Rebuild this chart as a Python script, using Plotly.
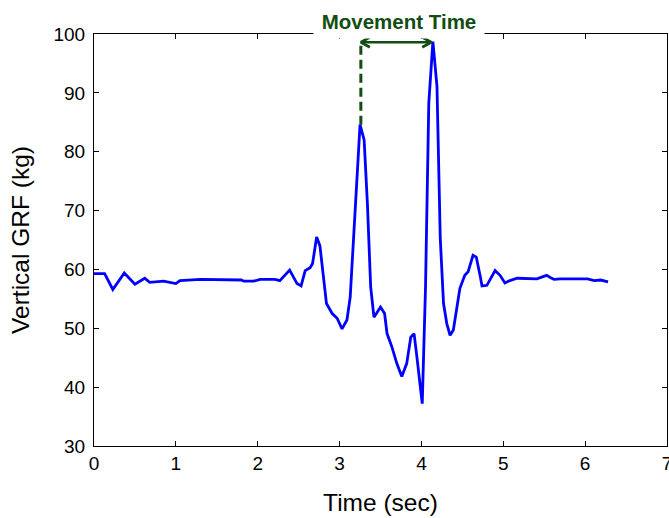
import plotly.graph_objects as go

# ---- data ----
time_s = [0.00, 0.13, 0.23, 0.37, 0.50, 0.62, 0.68, 0.85, 1.00, 1.05, 1.30, 1.55, 1.80, 1.83,
          1.95, 2.03, 2.21, 2.27, 2.39, 2.48, 2.53, 2.58, 2.64, 2.67, 2.72, 2.76, 2.84, 2.91,
          2.97, 3.03, 3.09, 3.13, 3.19, 3.22, 3.25, 3.30, 3.34, 3.38, 3.42, 3.45, 3.50, 3.55,
          3.58, 3.64, 3.70, 3.76, 3.82, 3.87, 3.91, 3.94, 3.98, 4.01, 4.05, 4.09, 4.14, 4.19,
          4.23, 4.27, 4.31, 4.35, 4.39, 4.43, 4.47, 4.53, 4.57, 4.63, 4.67, 4.72, 4.74, 4.80,
          4.90, 4.96, 5.02, 5.08, 5.17, 5.41, 5.53, 5.58, 5.62, 5.70, 6.03, 6.11, 6.19, 6.28]
grf_kg = [59.3, 59.3, 56.6, 59.4, 57.5, 58.5, 57.8, 58.0, 57.6, 58.1, 58.3, 58.2, 58.2, 58.0,
          58.0, 58.3, 58.3, 58.1, 59.9, 57.6, 57.2, 59.8, 60.3, 61.0, 65.5, 64.0, 54.2, 52.5,
          51.7, 49.9, 51.4, 55.3, 69.5, 76.9, 84.6, 82.0, 71.2, 57.0, 51.9, 52.5, 53.6, 52.5,
          49.1, 46.8, 44.0, 41.8, 44.0, 48.5, 49.1, 45.7, 41.1, 37.2, 57.0, 88.3, 98.7, 91.1,
          65.3, 54.2, 50.8, 48.8, 49.7, 53.6, 56.8, 59.0, 59.6, 62.4, 62.1, 58.7, 57.2, 57.3,
          59.8, 59.0, 57.7, 58.1, 58.5, 58.4, 59.0, 58.6, 58.3, 58.4, 58.4, 58.1, 58.2, 57.9]

x_ticks = [0, 1, 2, 3, 4, 5, 6, 7]
y_ticks = [30, 40, 50, 60, 70, 80, 90, 100]

mt_start = 3.26      # first peak time
mt_end = 4.12        # second peak time
mt_start_val = 84.6  # first peak value
mt_arrow_y = 98.6    # arrow level

GREEN = "#124d12"
FONT = "Liberation Sans, Arial, sans-serif"

fig = go.Figure()
fig.add_trace(go.Scatter(x=time_s, y=grf_kg, mode="lines",
                         line=dict(color="#0000ff", width=2.8), showlegend=False,
                         hoverinfo="skip"))

# dashed marker at first peak
fig.add_trace(go.Scatter(x=[mt_start, mt_start], y=[mt_start_val, mt_arrow_y], mode="lines",
                         line=dict(color=GREEN, width=3, dash="9px,5px"), showlegend=False,
                         hoverinfo="skip"))
# double arrow (shaft + chevrons)
hx, hy = 0.11, 0.85
fig.add_trace(go.Scatter(
    x=[mt_start, mt_end, None,
       mt_start + hx, mt_start, mt_start + hx, None,
       mt_end - hx, mt_end, mt_end - hx],
    y=[mt_arrow_y, mt_arrow_y, None,
       mt_arrow_y + hy, mt_arrow_y, mt_arrow_y - hy, None,
       mt_arrow_y + hy, mt_arrow_y, mt_arrow_y - hy],
    mode="lines", line=dict(color=GREEN, width=2.6), showlegend=False, hoverinfo="skip"))

fig.add_annotation(text="<b>Movement Time</b>", xref="x", yref="paper",
                   x=(mt_start + mt_end) / 2 + 0.04, y=1, yanchor="middle", yshift=13,
                   showarrow=False, bgcolor="white", width=162, height=26, borderpad=4,
                   font=dict(family=FONT, size=20.5, color=GREEN))

axis_common = dict(showline=True, linecolor="black", linewidth=1, mirror="ticks",
                   ticks="inside", ticklen=5, tickcolor="black", showgrid=False,
                   zeroline=False, ticklabeloverflow="allow", automargin=False,
                   tickfont=dict(family=FONT, size=19, color="black"))

fig.update_xaxes(range=[0, 7], tickvals=x_ticks, ticktext=[str(v) for v in x_ticks],
                 title=dict(text="Time (sec)", font=dict(family=FONT, size=24.5, color="black"),
                            standoff=21),
                 **axis_common)
fig.update_yaxes(range=[30, 100], tickvals=y_ticks, ticktext=[str(v) for v in y_ticks],
                 title=dict(text="Vertical GRF (kg)", font=dict(family=FONT, size=24.5, color="black"),
                            standoff=16),
                 ticklabelstandoff=4,
                 **axis_common)

fig.update_layout(width=669, height=518, margin=dict(l=94, r=2, t=34, b=72),
                  plot_bgcolor="white", paper_bgcolor="white")

fig.write_html("out.html")
